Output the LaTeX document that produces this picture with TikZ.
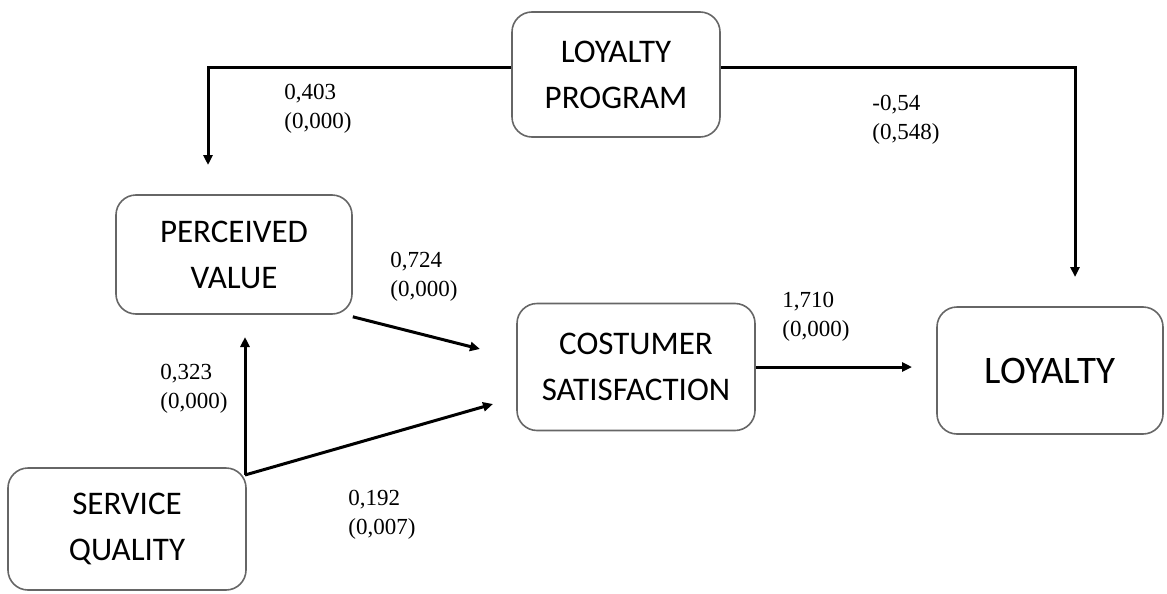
\documentclass[tikz,border=0pt]{standalone}
\usepackage{fontspec}
\setmainfont{Liberation Serif}
\newfontfamily\boxfont{Carlito}
\usetikzlibrary{arrows.meta,calc}

\tikzset{
  varbox/.style={draw=black!60,line width=0.8pt,rounded corners=10pt,align=center,inner sep=0pt,
    font=\boxfont\fontsize{16.5}{23}\selectfont},
  coef/.style={anchor=north west,align=left,inner sep=0pt,font=\fontsize{11.5}{14.5}\selectfont},
  link/.style={line width=1.5pt,->}
}

\begin{document}
\begin{tikzpicture}[x=0.5pt,y=-0.5pt,>={Triangle[length=5pt,width=4.5pt]}]
	\useasboundingbox (0,0) rectangle (1167,594);
	% variables
	\node[varbox,minimum width=104pt,minimum height=62.5pt] (lp) at (616,74.5) {LOYALTY\\PROGRAM};
	\node[varbox,minimum width=118pt,minimum height=59.5pt] (pv) at (234,254.5) {PERCEIVED\\VALUE};
	\node[varbox,minimum width=119pt,minimum height=63.5pt] (cs) at (636,367) {COSTUMER\\SATISFACTION};
	\node[varbox,minimum width=113pt,minimum height=63.5pt,font=\boxfont\fontsize{19.5}{23}\selectfont] (loy) at (1050,370.5) {LOYALTY};
	\node[varbox,minimum width=119pt,minimum height=61pt] (sq) at (127,529) {SERVICE\\QUALITY};
	% arrow ends
	\coordinate (pvin) at (208,165);
	\coordinate (loyin) at (1075,277);
	\coordinate (split) at (245,475);
	\coordinate (pvbot) at (245,337);
	\coordinate (csin1) at (480,349);
	\coordinate (csin2) at (493,404);
	\coordinate (loyleft) at (912,367);
	% paths
	\draw[link] ($(lp.west)+(0,-7)$) -| (pvin);
	\draw[link] ($(lp.east)+(0,-7)$) -| (loyin);
	\draw[link] ($(pv.south east)+(0,2)$) -- (csin1);
	\draw[link] (split) -- (pvbot);
	\draw[link] (split) -- (csin2);
	\draw[link] (cs.east) -- (loyleft);
	% coefficients
	\node[coef] (c1) at (284,84) {0,403\\(0,000)};
	\node[coef] (c2) at (872,95) {-0,54\\(0,548)};
	\node[coef] (c3) at (390,252) {0,724\\(0,000)};
	\node[coef] (c4) at (782,292) {1,710\\(0,000)};
	\node[coef] (c5) at (160,364) {0,323\\(0,000)};
	\node[coef] (c6) at (348,490) {0,192\\(0,007)};
\end{tikzpicture}
\end{document}
